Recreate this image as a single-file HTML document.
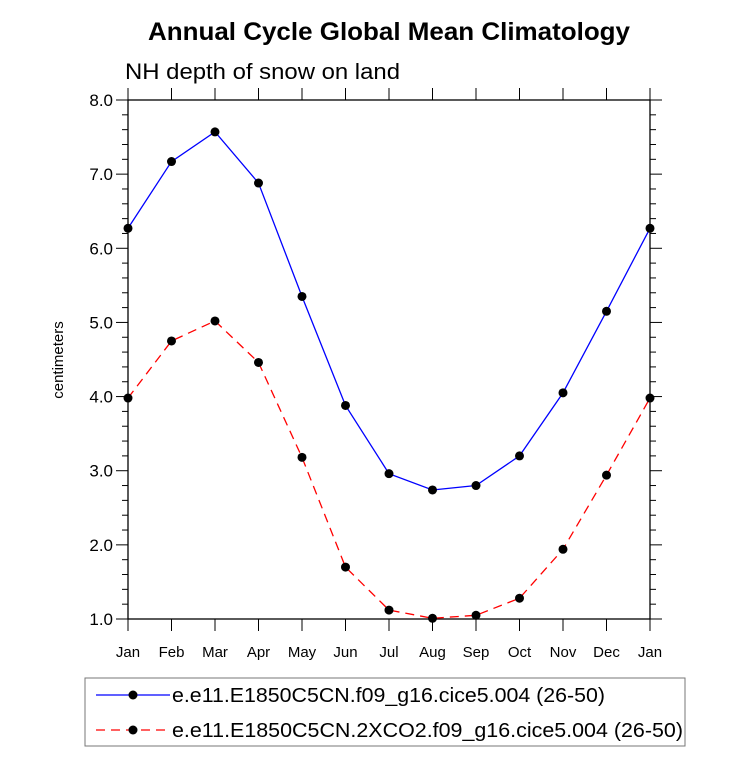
<!DOCTYPE html>
<html><head><meta charset="utf-8"><style>
body{margin:0;background:#fff;width:733px;height:754px;overflow:hidden}
svg{font-family:"Liberation Sans",Arial,sans-serif}
</style></head><body>
<svg id="c" width="733" height="754">
<text x="148" y="40" font-size="25" font-weight="bold" textLength="482" lengthAdjust="spacingAndGlyphs">Annual Cycle Global Mean Climatology</text>
<text x="125" y="79" font-size="22" textLength="275" lengthAdjust="spacingAndGlyphs">NH depth of snow on land</text>
<text transform="translate(63,360) rotate(-90)" text-anchor="middle" font-size="15">centimeters</text>
<g id="ax"></g>
<g id="series"></g>
<rect x="85" y="678" width="600" height="68" fill="none" stroke="#777" stroke-width="1"/>
<g>
<line x1="96" y1="695" x2="170" y2="695" stroke="#00f" stroke-width="1.3"/>
<circle cx="133" cy="695" r="4.5" fill="#000"/>
<text x="172" y="702" font-size="20" textLength="433" lengthAdjust="spacingAndGlyphs">e.e11.E1850C5CN.f09_g16.cice5.004 (26-50)</text></g>
<g>
<line x1="96" y1="730" x2="170" y2="730" stroke="#f00" stroke-width="1.3" stroke-dasharray="9,6"/>
<circle cx="133" cy="730" r="4.5" fill="#000"/>
<text x="172" y="737" font-size="20" textLength="511" lengthAdjust="spacingAndGlyphs">e.e11.E1850C5CN.2XCO2.f09_g16.cice5.004 (26-50)</text></g>
</svg>
<script>
const months=["Jan","Feb","Mar","Apr","May","Jun","Jul","Aug","Sep","Oct","Nov","Dec","Jan"];
const controlValues=[6.27,7.17,7.57,6.88,5.35,3.88,2.96,2.74,2.80,3.20,4.05,5.15,6.27];
const co2Values=[3.98,4.75,5.02,4.46,3.18,1.70,1.12,1.01,1.05,1.28,1.94,2.94,3.98];
const yTicks=[1,2,3,4,5,6,7,8];
const NS="http://www.w3.org/2000/svg";
const L=128,R=650,T=100,B=619,ymin=1,ymax=8;
const X=i=>L+(R-L)*i/(months.length-1);
const Y=v=>B-(B-T)*(v-ymin)/(ymax-ymin);
function mk(tag,attrs,parent){const e=document.createElementNS(NS,tag);for(const k in attrs)e.setAttribute(k,attrs[k]);parent.appendChild(e);return e;}
const ax=document.getElementById('ax');
const frame=mk('rect',{x:L,y:T,width:R-L,height:B-T,fill:'none',stroke:'#000','stroke-width':1.3},ax);


for(let v=ymin;v<=ymax+1e-9;v+=0.2){
  const major=Math.abs(v-Math.round(v))<1e-6;const len=major?12:6;const y=Y(v);
  mk('line',{x1:L-len,y1:y,x2:L,y2:y,stroke:'#000','stroke-width':1},ax);
  mk('line',{x1:R,y1:y,x2:R+len,y2:y,stroke:'#000','stroke-width':1},ax);
}
yTicks.forEach(v=>{
  const t=mk('text',{x:L-15,y:Y(v)+6,'text-anchor':'end','font-size':17},ax);
  t.textContent=v.toFixed(1);
  
  
});
months.forEach((m,i)=>{
  const x=X(i);
  mk('line',{x1:x,y1:B,x2:x,y2:B+12,stroke:'#000','stroke-width':1},ax);
  mk('line',{x1:x,y1:T-12,x2:x,y2:T,stroke:'#000','stroke-width':1},ax);
  const t=mk('text',{x:x,y:B+38,'text-anchor':'middle','font-size':15},ax);
  t.textContent=m;
  
  
});
const sg=document.getElementById('series');
function series(vals,color,dash,name){
  const g=mk('g',{},sg);
  
  
  const a={points:vals.map((v,i)=>X(i)+','+Y(v)).join(' '),fill:'none',stroke:color,'stroke-width':1.3};
  if(dash)a['stroke-dasharray']=dash;
  mk('polyline',a,g);
  vals.forEach((v,i)=>{const c=mk('circle',{cx:X(i),cy:Y(v),r:4.5,fill:'#000'},g);
    
    });
}
series(controlValues,'#00f',null,'series-control');
series(co2Values,'#f00','9,6','series-2xco2');
</script>
</body></html>
